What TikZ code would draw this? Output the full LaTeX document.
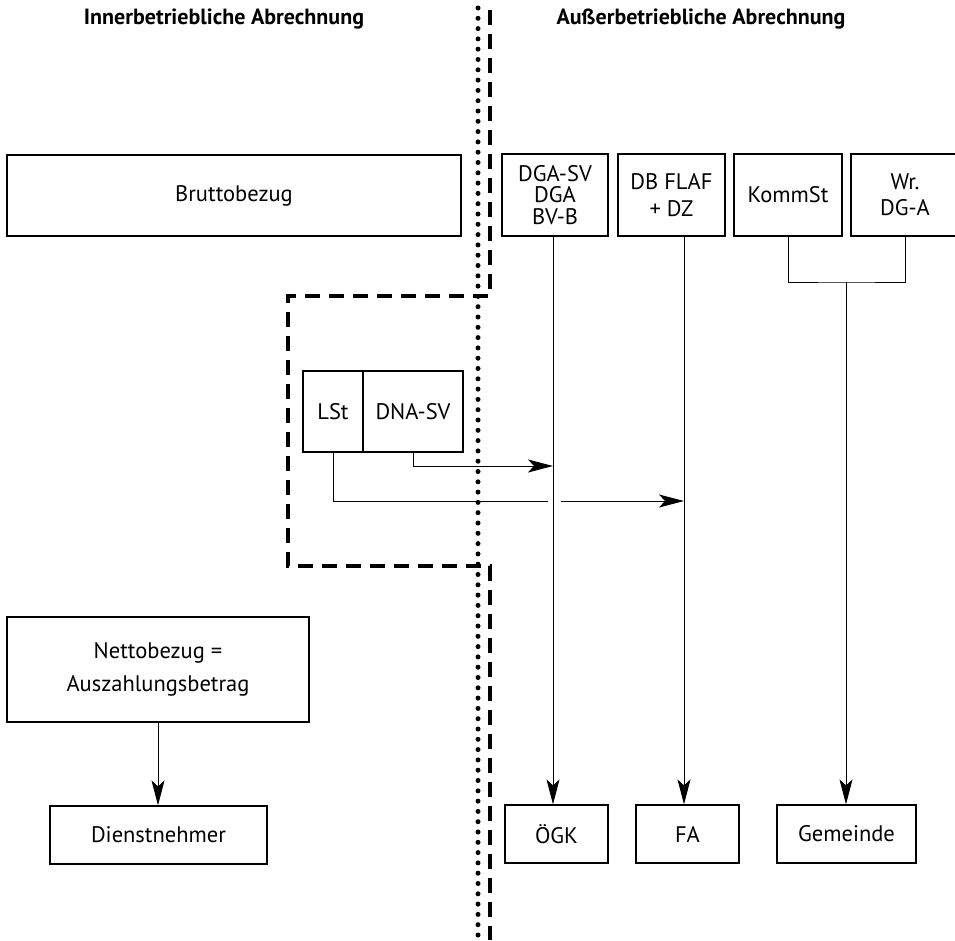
\documentclass[tikz,border=0pt]{standalone}
\usepackage{fontspec}
\setmainfont{PT Sans}
\usetikzlibrary{arrows.meta}

\begin{document}
\begin{tikzpicture}[x=1pt,y=-1pt]
        \useasboundingbox (0,0) rectangle (955,940);
        \begin{scope}[every node/.style={font=\bfseries\fontsize{22}{23}\selectfont, inner sep=0}]
                \node (H1) at (224,19) {Innerbetriebliche Abrechnung};
                \node (H2) at (701,19) {Außerbetriebliche Abrechnung};
        \end{scope}
        \draw[line width=5pt, line cap=round, dash pattern=on 0pt off 10.3pt] (478,8) -- (478,940);
        \draw[line width=4.5pt, dash pattern=on 15pt off 9pt] (490,10) -- (490,296) -- (288,296) -- (288,566) -- (490,566) -- (490,940);
        \begin{scope}[every node/.style={draw, line width=1.2pt, inner sep=0, align=center, font=\fontsize{22.5}{21.5}\selectfont}]
                \node[minimum width=454pt, minimum height=81pt] (B1) at (234,195.5) {Bruttobezug};

                \node[minimum width=106pt, minimum height=82pt] (A1) at (555,195) {DGA-SV\\DGA\\BV-B};
                \node[minimum width=107pt, minimum height=82pt] (A2) at (671.5,195) {DB FLAF\\[6pt]+ DZ};
                \node[minimum width=108pt, minimum height=82pt] (A3) at (788,195) {KommSt};
                \node[minimum width=108pt, minimum height=82pt] (A4) at (905,195) {Wr.\\[5pt]DG-A};

                \node[minimum width=60pt, minimum height=81pt] (L1) at (333,411.5) {LSt};
                \node[minimum width=100pt, minimum height=81pt] (L2) at (413,411.5) {DNA-SV};

                \node[minimum width=302pt, minimum height=105pt] (N1) at (158,669.5) {Nettobezug =\\[11pt]Auszahlungsbetrag};
                \node[minimum width=217pt, minimum height=58pt] (N2) at (158.5,835) {Dienstnehmer};

                \node[minimum width=103pt, minimum height=58pt] (Z1) at (556.5,834) {ÖGK};
                \node[minimum width=103pt, minimum height=58pt] (Z2) at (687.5,834) {FA};
                \node[minimum width=139pt, minimum height=58pt] (Z3) at (846.5,834) {Gemeinde};
        \end{scope}
        \coordinate (C1) at (553,236);
        \coordinate (C2) at (684,236);
        \coordinate (M1) at (846,282);
        \coordinate (D1) at (553,466);
        \coordinate (G1) at (548,501);
        \coordinate (G2) at (561,501);
        \begin{scope}[every path/.style={line width=1pt, -{Stealth[length=25pt,width=13pt,inset=6pt]}}]
                \path (N1.south) edge (N1.south |- N2.north);
                \path (C1) edge (C1 |- Z1.north);
                \path (C2) edge (C2 |- Z2.north);
                \path (M1) edge (M1 |- Z3.north);
                \path (L2.south) edge[to path={|- (\tikztotarget)}] (D1);
                \path (G2) edge (C2 |- G2);
        \end{scope}
        \draw[line width=1pt] (L1.south) |- (G1);
        \draw[line width=1pt] (A3.south) |- (M1) -| (A4.south);
\end{tikzpicture}
\end{document}
